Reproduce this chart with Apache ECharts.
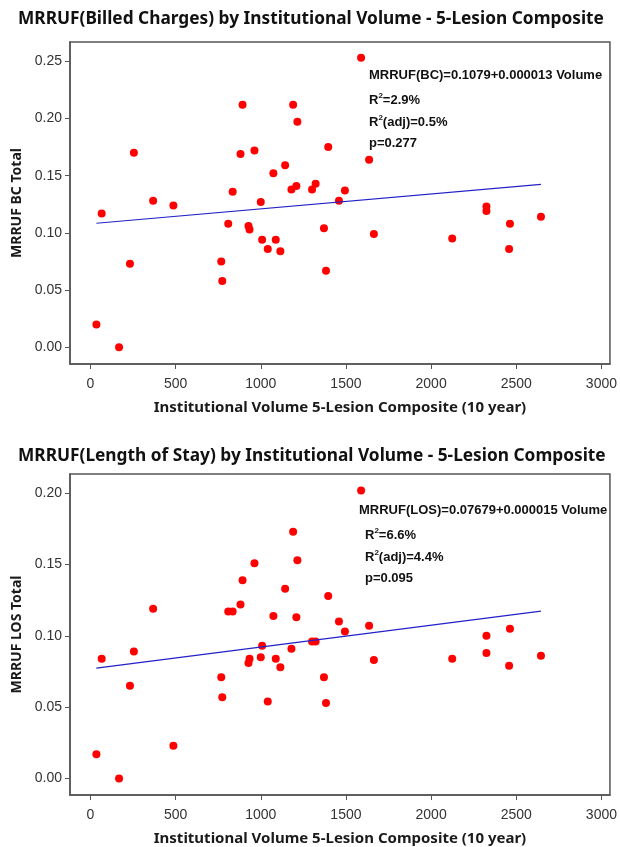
<!DOCTYPE html>
<html>
<head>
<meta charset="utf-8">
<script src="https://cdn.jsdelivr.net/npm/echarts@6/dist/echarts.min.js"></script>
<style>
  html, body { margin: 0; padding: 0; background: #fff; }
  #chart { width: 620px; height: 847px; }
</style>
</head>
<body>
<div id="chart"></div>
<script>
  // institutional volume (10 year), shared by both panels
  const volume = [35, 168, 66, 232, 255, 368, 487, 768, 774, 809, 835, 881, 893, 928, 934, 963,
    1000, 1008, 1041, 1074, 1088, 1115, 1143, 1180, 1190, 1209, 1215, 1301, 1322, 1371, 1383,
    1396, 1459, 1589, 1494, 1636, 1664, 2124, 2325, 2325, 2463, 2458, 2645];
  const bcTotal = [0.020, 0.000, 0.117, 0.073, 0.170, 0.128, 0.124, 0.075, 0.058, 0.108, 0.136,
    0.169, 0.212, 0.106, 0.103, 0.172, 0.127, 0.094, 0.086, 0.152, 0.094, 0.084, 0.159, 0.138,
    0.212, 0.141, 0.197, 0.138, 0.143, 0.104, 0.067, 0.175, 0.128, 0.253, 0.137, 0.164, 0.099,
    0.095, 0.123, 0.119, 0.108, 0.086, 0.114];
  const losTotal = [0.017, 0.000, 0.084, 0.065, 0.089, 0.119, 0.023, 0.071, 0.057, 0.117, 0.117,
    0.122, 0.139, 0.081, 0.084, 0.151, 0.085, 0.093, 0.054, 0.114, 0.084, 0.078, 0.133, 0.091,
    0.173, 0.113, 0.153, 0.096, 0.096, 0.071, 0.053, 0.128, 0.110, 0.202, 0.103, 0.107, 0.083,
    0.084, 0.100, 0.088, 0.105, 0.079, 0.086];
  // fitted lines (end points)
  const bcFit = [[35, 0.1084], [2645, 0.1423]];
  const losFit = [[35, 0.0774], [2645, 0.1173]];

  const xTicks = [0, 500, 1000, 1500, 2000, 2500, 3000];
  const bcTicks = [0, 0.05, 0.10, 0.15, 0.20, 0.25];
  const losTicks = [0, 0.05, 0.10, 0.15, 0.20];

  const bcNotes = ['MRRUF(BC)=0.1079+0.000013 Volume', 'R{sup|2}=2.9%', 'R{sup|2}(adj)=0.5%', 'p=0.277'];
  const losNotes = ['MRRUF(LOS)=0.07679+0.000015 Volume', 'R{sup|2}=6.6%', 'R{sup|2}(adj)=4.4%', 'p=0.095'];

  const font = 'Liberation Sans, Arial, sans-serif';
  const headFont = 'Noto Sans, sans-serif';
  const axisColor = '#555';

  function pts(ys) { return volume.map((v, i) => [v, ys[i]]); }

  function xAxis(idx) {
    return {
      gridIndex: idx, type: 'value', min: -120, max: 3050,
      name: 'Institutional Volume 5-Lesion Composite (10 year)',
      nameLocation: 'middle', nameGap: 36,
      nameTextStyle: { fontFamily: headFont, fontWeight: 'bold', fontSize: 15, color: '#1a1a1a' },
      axisLine: { show: true, onZero: false, lineStyle: { color: axisColor, width: 1.5 } },
      axisTick: { show: true, length: 5, customValues: xTicks, lineStyle: { color: axisColor } },
      axisLabel: { customValues: xTicks, color: '#333', fontSize: 14, margin: 13, fontFamily: font,
        formatter: v => String(v) },
      splitLine: { show: false }
    };
  }
  function yAxis(idx, name, min, max, ticks) {
    return {
      gridIndex: idx, type: 'value', min: min, max: max,
      name: name, nameLocation: 'middle', nameGap: 38,
      nameTextStyle: { fontFamily: headFont, fontWeight: 'bold', fontSize: 14, color: '#1a1a1a' },
      axisLine: { show: true, onZero: false, lineStyle: { color: axisColor, width: 1.5 } },
      axisTick: { show: true, length: 5, customValues: ticks, lineStyle: { color: axisColor } },
      axisLabel: { customValues: ticks, color: '#333', fontSize: 14, margin: 8, fontFamily: font,
        formatter: v => v.toFixed(2) },
      splitLine: { show: false }
    };
  }
  function notes(lines, left, top, indent) {
    return lines.map((t, i) => ({
      type: 'text', left: left + (i > 0 ? indent : 0), top: top + i * 22.5,
      style: {
        text: t, fill: '#111', font: 'bold 13px ' + font,
        rich: { sup: { fontSize: 8, fontWeight: 'bold', fontFamily: font, fill: '#111', padding: [0, 0, 9, 0] } }
      }
    }));
  }

  const chart = echarts.init(document.getElementById('chart'));
  chart.setOption({
    backgroundColor: '#fff',
    animation: false,
    title: [
      { text: 'MRRUF(Billed Charges) by Institutional Volume - 5-Lesion Composite', left: 13, top: 6,
        textStyle: { fontFamily: headFont, fontWeight: 'bold', fontSize: 17.3, color: '#111' } },
      { text: 'MRRUF(Length of Stay) by Institutional Volume - 5-Lesion Composite', left: 13, top: 443,
        textStyle: { fontFamily: headFont, fontWeight: 'bold', fontSize: 17.3, color: '#111' } }
    ],
    grid: [
      { left: 70, top: 42, width: 542, height: 322, show: true, borderColor: axisColor, borderWidth: 1.5 },
      { left: 70, top: 474, width: 542, height: 323, show: true, borderColor: axisColor, borderWidth: 1.5 }
    ],
    xAxis: [xAxis(0), xAxis(1)],
    yAxis: [
      yAxis(0, 'MRRUF BC Total', -0.0146, 0.2668, bcTicks),
      yAxis(1, 'MRRUF LOS Total', -0.0116, 0.2135, losTicks)
    ],
    series: [
      { type: 'scatter', xAxisIndex: 0, yAxisIndex: 0, data: pts(bcTotal), symbolSize: 8,
        itemStyle: { color: '#ff0000', opacity: 1 } },
      { type: 'line', xAxisIndex: 0, yAxisIndex: 0, data: bcFit, symbol: 'none',
        lineStyle: { color: '#2222c8', width: 1.2 } },
      { type: 'scatter', xAxisIndex: 1, yAxisIndex: 1, data: pts(losTotal), symbolSize: 8,
        itemStyle: { color: '#ff0000', opacity: 1 } },
      { type: 'line', xAxisIndex: 1, yAxisIndex: 1, data: losFit, symbol: 'none',
        lineStyle: { color: '#2222c8', width: 1.2 } }
    ],
    graphic: notes(bcNotes, 369, 69, 0).concat(notes(losNotes, 359, 504, 6))
  });
</script>
</body>
</html>
